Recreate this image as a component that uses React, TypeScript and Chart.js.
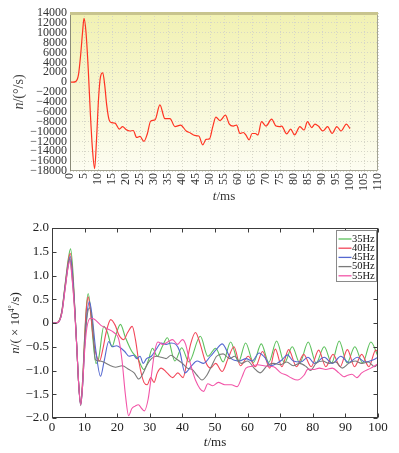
import React, { useEffect, useRef } from 'react';
import { Chart, registerables } from 'chart.js';

Chart.register(...registerables);

const SERIF = "'Liberation Serif', 'DejaVu Serif', serif";

// ---------- top chart data (t in ms, n in °/s) ----------
const topTimes = [0, 1, 2, 3, 3.8, 4.5, 5, 5.7, 6.5, 7.3, 8, 8.8, 9.5, 10.2, 10.9, 11.7, 12.4, 13.1, 14, 14.9, 16.1, 17.6, 18.8, 20, 21.4, 22.6, 23.8, 25, 26.4, 27.6, 28.8, 30.4, 32.1, 33.9, 35.7, 37.5, 39.5, 41.5, 43, 44.5, 46, 47.4, 48.6, 49.8, 51, 52.1, 53.6, 55.5, 56.9, 58.3, 59.5, 60.7, 61.9, 62.9, 64, 65, 66.2, 67.1, 68.4, 70, 72, 73.6, 74.8, 75.6, 77.4, 78.8, 80.2, 82.1, 83.6, 84.8, 86.3, 87.5, 88.7, 90.3, 92, 93.6, 95.3, 96.8, 98.7, 100];
const topRates = [0, 0, 100, 1400, 5500, 10200, 12900, 10200, 2800, -6650, -13400, -17500, -11300, -3300, 1100, 1900, -600, -4600, -7700, -8200, -8300, -9500, -9000, -9600, -9900, -9800, -11200, -11000, -12000, -10500, -7900, -7600, -4600, -7400, -7400, -9000, -8700, -9900, -10300, -10800, -10900, -12700, -11600, -11500, -9000, -7100, -7800, -6700, -8500, -8900, -8700, -10400, -10200, -10800, -11700, -10400, -10400, -10700, -8000, -8900, -7500, -8900, -9000, -8900, -10500, -9500, -10700, -9000, -9700, -8000, -9200, -8500, -8900, -9900, -9000, -10400, -9000, -9900, -8500, -9400];
const topXRange = [0, 110];
const topXStep = 5;
const topYRange = [-18000, 14000];
const topYStep = 2000;

// ---------- bottom chart data (t in ms, n in 10^4 °/s) ----------
const freqLabels = ['35Hz', '40Hz', '45Hz', '50Hz', '55Hz'];
const freqColors = ['#5cc05c', '#f2475a', '#5568d0', '#7a7a7a', '#f255a8'];

const t35 = [0, 1, 2, 3, 4, 5, 5.7, 6.4, 7, 7.6, 8.2, 8.8, 9.4, 10, 10.5, 11.1, 11.8, 12.5, 13.5, 14.3, 15.9, 17, 18.4, 19.6, 21, 22.5, 24.5, 26.3, 28.2, 29.5, 30.8, 32.3, 33.8, 35.4, 37.7, 39.8, 42, 45.5, 47.8, 50.2, 52.5, 54.8, 57.2, 59.4, 61.8, 64.2, 66.5, 68.9, 71.3, 73.7, 76, 78.6, 81, 83.5, 85.8, 88.1, 90.5, 92.9, 95.3, 97.8, 100];
const v35 = [0, 0, 0.03, 0.25, 0.8, 1.35, 1.56, 1.1, 0.3, -0.5, -1.3, -1.7, -1.2, -0.3, 0.3, 0.62, 0.3, -0.3, -0.85, -0.75, -0.07, -0.2, -0.5, -0.25, -0.03, -0.3, -0.6, -0.75, -0.98, -0.8, -0.53, -0.7, -0.5, -0.31, -0.8, -0.52, -0.82, -0.28, -0.7, -0.53, -0.82, -0.4, -0.82, -0.42, -0.83, -0.44, -0.83, -0.38, -0.84, -0.5, -0.84, -0.4, -0.84, -0.5, -0.84, -0.38, -0.84, -0.5, -0.84, -0.4, -0.7];

const t40 = [0, 1, 2, 3, 4, 5, 5.6, 6.3, 7, 7.6, 8.2, 8.8, 9.4, 10, 10.5, 11.1, 11.8, 12.6, 13.5, 14.6, 15.6, 16.6, 18, 19.4, 20.5, 22, 23.2, 24.6, 25.6, 26.6, 28.2, 29.2, 30.3, 31.3, 32.3, 33.5, 35.3, 37, 38.6, 40.2, 41.3, 42.5, 44, 45.5, 47, 48.6, 50.2, 52.2, 54, 55.8, 57.8, 60.2, 62.4, 64.6, 66.8, 68.5, 70.5, 72.6, 75, 77.2, 79.5, 81.8, 84, 86.2, 88.4, 90.6, 92.8, 95, 97.2, 99.3, 100];
const v40 = [0, 0, 0.03, 0.24, 0.78, 1.3, 1.47, 1.05, 0.3, -0.5, -1.3, -1.7, -1.2, -0.35, 0.25, 0.55, 0.25, -0.3, -0.65, -0.8, -0.55, -0.2, 0.07, -0.05, -0.25, -0.35, -0.2, -0.07, -0.35, -0.8, -1.25, -1.3, -1.15, -1.25, -1.05, -0.95, -1.05, -1.15, -1.05, -1.15, -0.85, -0.45, -0.2, -0.45, -0.8, -0.95, -0.85, -1.02, -0.75, -0.5, -0.9, -0.7, -0.92, -0.6, -0.95, -0.55, -0.92, -0.56, -0.92, -0.66, -0.92, -0.57, -0.92, -0.66, -0.92, -0.56, -0.92, -0.66, -0.92, -0.57, -0.62];

const t45 = [0, 1, 2, 3, 4, 5, 5.6, 6.3, 7, 7.6, 8.2, 8.8, 9.4, 10, 10.6, 11.5, 12.3, 13.3, 14.9, 16, 17.4, 18.5, 19.8, 21, 22.3, 23.6, 25, 26, 27, 28, 29, 30.5, 32, 33.5, 35, 36.5, 38, 39.2, 40.8, 42.8, 44.5, 46.5, 48.6, 50.5, 52.2, 54.8, 57.5, 59.5, 61.4, 63.5, 65.2, 67.1, 69, 70.5, 72.2, 74, 76.3, 78.5, 80.5, 83.5, 86, 88.6, 91, 93.7, 96, 98.4, 100];
const v45 = [0, 0, 0.02, 0.22, 0.75, 1.25, 1.4, 1.0, 0.28, -0.5, -1.3, -1.72, -1.3, -0.5, 0.1, 0.45, 0.15, -0.5, -1.12, -0.8, -0.39, -0.5, -0.48, -0.52, -0.6, -0.7, -0.68, -0.75, -0.7, -0.85, -0.75, -0.7, -0.55, -0.42, -0.45, -0.42, -0.45, -0.6, -1.05, -0.9, -0.8, -0.85, -0.7, -0.55, -0.44, -0.74, -0.8, -0.75, -0.8, -0.63, -0.72, -0.9, -0.85, -0.78, -0.67, -0.8, -0.82, -0.72, -0.85, -0.72, -0.85, -0.7, -0.83, -0.72, -0.82, -0.78, -0.72];

const t50 = [0, 1, 2, 3, 4, 5, 5.5, 6.2, 7, 7.6, 8.2, 8.8, 9.4, 10, 10.6, 11.5, 12.4, 13.3, 14.5, 15.8, 17.4, 19.5, 21.5, 23.6, 25.2, 26.6, 28, 29, 30.5, 32, 33.5, 35, 36.5, 38, 40, 41.5, 43, 44.5, 46, 47.5, 49, 50.5, 52.5, 54.5, 56, 58, 60, 62, 63.8, 66, 68, 70, 72, 74, 76, 78, 79.3, 81, 83, 85, 87, 89, 91, 93, 95, 97, 99, 100];
const v50 = [0, 0, 0.02, 0.2, 0.72, 1.22, 1.35, 0.95, 0.25, -0.5, -1.3, -1.74, -1.3, -0.5, 0.05, 0.32, 0.0, -0.77, -0.8, -0.82, -0.88, -0.93, -0.9, -0.98, -1.05, -1.18, -1.05, -0.9, -0.75, -0.7, -0.72, -0.75, -0.68, -0.75, -0.85, -0.95, -0.98, -1.1, -1.2, -1.1, -0.9, -0.7, -0.65, -0.75, -0.7, -0.85, -0.8, -0.95, -1.05, -0.9, -0.85, -0.88, -0.82, -0.9, -0.85, -0.92, -1.0, -0.85, -0.8, -0.85, -0.82, -0.95, -0.85, -0.8, -0.85, -0.82, -0.92, -0.85];

const t55 = [0, 1, 2, 3, 4, 5, 5.5, 6.2, 7, 7.6, 8.2, 8.8, 9.4, 10, 10.7, 11.8, 13, 15, 17, 19, 20.5, 21.5, 22.5, 23.5, 24.5, 25.5, 26.5, 27.5, 28.3, 29.5, 30.5, 31.5, 32.5, 34, 35.5, 37, 38.5, 40, 41, 42, 44, 46.5, 47.8, 49.3, 51, 53, 55, 56.8, 58.2, 59.5, 61.4, 63, 66, 68, 70.2, 72, 73.5, 75.3, 77.3, 78.5, 80.4, 82, 84, 86, 88, 89.5, 90.7, 92, 93.5, 95, 97.8, 100];
const v55 = [0, 0, 0.02, 0.2, 0.7, 1.2, 1.3, 0.9, 0.2, -0.5, -1.3, -1.72, -1.3, -0.6, -0.1, 0.1, 0.08, -0.05, -0.12, -0.2, -0.35, -0.8, -1.5, -1.95, -1.8, -1.75, -1.72, -1.8, -1.85, -1.6, -1.1, -0.6, -0.4, -0.45, -0.4, -0.35, -0.45, -0.35, -0.45, -0.74, -1.2, -1.44, -1.28, -1.32, -1.25, -1.3, -1.3, -1.34, -1.15, -0.95, -0.91, -0.88, -0.91, -0.92, -1.05, -1.1, -1.16, -1.2, -1.1, -0.97, -0.98, -0.95, -0.98, -0.95, -1.05, -1.13, -1.1, -1.08, -1.15, -1.05, -0.95, -0.86];

const bottomTimes = [t35, t40, t45, t50, t55];
const bottomValues = [v35, v40, v45, v50, v55];
const bottomXRange = [0, 100];
const bottomXStep = 10;
const bottomYRange = [-2, 2];
const bottomYStep = 0.5;

const zip = (ts: number[], vs: number[]) => ts.map((t, i) => ({ x: t, y: vs[i] }));
const minus = (s: string) => s.replace('-', '\u2212');

type Part = { text: string; italic?: boolean; sup?: boolean };

function drawRich(ctx: CanvasRenderingContext2D, parts: Part[], cx: number, cy: number, size: number, color: string, rotate: boolean) {
  ctx.save();
  ctx.translate(cx, cy);
  if (rotate) ctx.rotate(-Math.PI / 2);
  const fontOf = (p: Part) => `${p.italic ? 'italic ' : ''}${p.sup ? Math.round(size * 0.62) : size}px ${SERIF}`;
  let total = 0;
  const widths = parts.map((p) => {
    ctx.font = fontOf(p);
    const w = ctx.measureText(p.text).width;
    total += w;
    return w;
  });
  let x = -total / 2;
  ctx.fillStyle = color;
  ctx.textBaseline = 'middle';
  ctx.textAlign = 'left';
  parts.forEach((p, i) => {
    ctx.font = fontOf(p);
    ctx.fillText(p.text, x, p.sup ? -size * 0.32 : 0);
    x += widths[i];
  });
  ctx.restore();
}

const topDecor = {
  id: 'topDecor',
  beforeDraw(chart: any) {
    const { ctx, chartArea: a } = chart;
    const g = ctx.createLinearGradient(0, a.top, 0, a.bottom);
    g.addColorStop(0, '#f1f1b2');
    g.addColorStop(1, '#fdfdf2');
    ctx.save();
    ctx.fillStyle = g;
    ctx.fillRect(a.left, a.top, a.right - a.left, a.bottom - a.top);
    ctx.restore();
  },
  afterDraw(chart: any) {
    const { ctx, chartArea: a } = chart;
    ctx.save();
    ctx.strokeStyle = '#a4a494';
    ctx.lineWidth = 1;
    ctx.beginPath();
    ctx.moveTo(a.right - 0.5, a.top);
    ctx.lineTo(a.right - 0.5, a.bottom - 0.5);
    ctx.lineTo(a.left + 0.5, a.bottom - 0.5);
    ctx.stroke();
    ctx.strokeStyle = '#8a8a78';
    ctx.beginPath();
    ctx.moveTo(a.left + 0.5, a.bottom);
    ctx.lineTo(a.left + 0.5, a.top);
    ctx.stroke();
    ctx.fillStyle = '#c8c48e';
    ctx.fillRect(a.left, a.top - 1, a.right - a.left, 3);
    ctx.restore();
    drawRich(ctx, [{ text: 't', italic: true }, { text: '/ms' }], (a.left + a.right) / 2, 197, 13, '#333', false);
    drawRich(ctx, [{ text: 'n', italic: true }, { text: '/(\u00b0/s)' }], 19, (a.top + a.bottom) / 2, 14, '#444', true);
  },
};

const bottomDecor = {
  id: 'bottomDecor',
  afterDraw(chart: any) {
    const { ctx, chartArea: a, scales } = chart;
    const xs = scales.x;
    const ys = scales.y;
    const L = Math.round(a.left) + 0.5;
    const R = Math.round(a.right) - 0.5;
    const T = Math.round(a.top) + 0.5;
    const B = Math.round(a.bottom) - 0.5;
    const tl = 4;
    ctx.save();
    ctx.strokeStyle = '#3c3c3c';
    ctx.lineWidth = 1;
    ctx.strokeRect(L, T, R - L, B - T);
    ctx.beginPath();
    xs.ticks.forEach((t: any) => {
      const px = Math.round(xs.getPixelForValue(t.value)) + 0.5;
      ctx.moveTo(px, B);
      ctx.lineTo(px, B - tl);
      ctx.moveTo(px, T);
      ctx.lineTo(px, T + tl);
    });
    ys.ticks.forEach((t: any) => {
      const py = Math.round(ys.getPixelForValue(t.value)) + 0.5;
      ctx.moveTo(L, py);
      ctx.lineTo(L + tl, py);
      ctx.moveTo(R, py);
      ctx.lineTo(R - tl, py);
    });
    ctx.stroke();

    // legend
    const bx = Math.round(a.right) - 41.5;
    const by = Math.round(a.top) + 2.5;
    const bw = 40;
    const bh = 51;
    ctx.fillStyle = '#ffffff';
    ctx.fillRect(bx, by, bw, bh);
    ctx.strokeStyle = '#8a8a8a';
    ctx.strokeRect(bx, by, bw, bh);
    ctx.font = `10.5px ${SERIF}`;
    ctx.textBaseline = 'middle';
    ctx.textAlign = 'left';
    freqLabels.forEach((lab, i) => {
      const y = by + 8.5 + i * 9.2;
      ctx.strokeStyle = freqColors[i];
      ctx.lineWidth = 1.3;
      ctx.beginPath();
      ctx.moveTo(bx + 2, y);
      ctx.lineTo(bx + 15, y);
      ctx.stroke();
      ctx.fillStyle = '#111';
      ctx.fillText(lab, bx + 15.5, y);
    });
    ctx.restore();
    drawRich(ctx, [{ text: 't', italic: true }, { text: '/ms' }], (a.left + a.right) / 2, 233, 13, '#222', false);
    drawRich(
      ctx,
      [{ text: 'n', italic: true }, { text: '/( \u00d7 10' }, { text: '4\u00b0', sup: true }, { text: '/s)' }],
      16,
      (a.top + a.bottom) / 2,
      13,
      '#222',
      true
    );
  },
};

export default function App() {
  const topRef = useRef<HTMLCanvasElement>(null);
  const botRef = useRef<HTMLCanvasElement>(null);

  useEffect(() => {
    const tickFont12 = { family: SERIF, size: 12 };
    const tickFont13 = { family: SERIF, size: 13 };

    const c1 = new Chart(topRef.current as HTMLCanvasElement, {
      type: 'line',
      data: {
        datasets: [
          {
            data: zip(topTimes, topRates),
            borderColor: '#ff3322',
            borderWidth: 1.2,
            pointRadius: 0,
            cubicInterpolationMode: 'monotone',
            fill: false,
          },
        ],
      },
      options: {
        responsive: false,
        animation: false,
        events: [],
        layout: { padding: { left: 0, right: 21, top: 13, bottom: 0 } },
        plugins: { legend: { display: false }, tooltip: { enabled: false } },
        scales: {
          x: {
            type: 'linear',
            min: topXRange[0],
            max: topXRange[1],
            afterFit: (s: any) => {
              s.height = 39;
            },
            ticks: {
              stepSize: topXStep,
              autoSkip: false,
              minRotation: 90,
              maxRotation: 90,
              padding: 2,
              font: tickFont12,
              color: '#333',
            },
            grid: { color: '#d6d6c8', drawTicks: false, lineWidth: 1 },
            border: { display: false, dash: [1, 2] },
          },
          y: {
            type: 'linear',
            min: topYRange[0],
            max: topYRange[1],
            afterFit: (s: any) => {
              s.width = 70;
            },
            ticks: {
              stepSize: topYStep,
              autoSkip: false,
              padding: 3,
              font: tickFont12,
              color: '#333',
              callback: (v: any) => minus(String(v)),
            },
            grid: { color: '#d6d6c8', drawTicks: false, lineWidth: 1 },
            border: { display: false, dash: [1, 2] },
          },
        },
      } as any,
      plugins: [topDecor],
    });

    const c2 = new Chart(botRef.current as HTMLCanvasElement, {
      type: 'line',
      data: {
        datasets: freqLabels.map((lab, i) => ({
          label: lab,
          data: zip(bottomTimes[i], bottomValues[i]),
          borderColor: freqColors[i],
          borderWidth: 1.1,
          pointRadius: 0,
          cubicInterpolationMode: 'monotone',
          fill: false,
          order: freqLabels.length - 1 - i,
        })),
      },
      options: {
        responsive: false,
        animation: false,
        events: [],
        layout: { padding: { left: 0, right: 21, top: 18, bottom: 0 } },
        plugins: { legend: { display: false }, tooltip: { enabled: false } },
        scales: {
          x: {
            type: 'linear',
            min: bottomXRange[0],
            max: bottomXRange[1],
            afterFit: (s: any) => {
              s.height = 35;
            },
            ticks: {
              stepSize: bottomXStep,
              autoSkip: false,
              maxRotation: 0,
              padding: 2,
              font: tickFont13,
              color: '#222',
            },
            grid: { display: false, drawTicks: false },
            border: { display: false },
          },
          y: {
            type: 'linear',
            min: bottomYRange[0],
            max: bottomYRange[1],
            afterFit: (s: any) => {
              s.width = 52;
            },
            ticks: {
              stepSize: bottomYStep,
              autoSkip: false,
              padding: 3,
              font: tickFont13,
              color: '#222',
              callback: (v: any) => (Number(v) === 0 ? '0' : minus(Number(v).toFixed(1))),
            },
            grid: { display: false, drawTicks: false },
            border: { display: false },
          },
        },
      } as any,
      plugins: [bottomDecor],
    });

    return () => {
      c1.destroy();
      c2.destroy();
    };
  }, []);

  return (
    <div style={{ position: 'fixed', left: 0, top: 0, width: 399, height: 453, background: '#ffffff' }}>
      <canvas ref={topRef} width={399} height={210} style={{ position: 'absolute', left: 0, top: 0 }} />
      <canvas ref={botRef} width={399} height={243} style={{ position: 'absolute', left: 0, top: 210 }} />
    </div>
  );
}
